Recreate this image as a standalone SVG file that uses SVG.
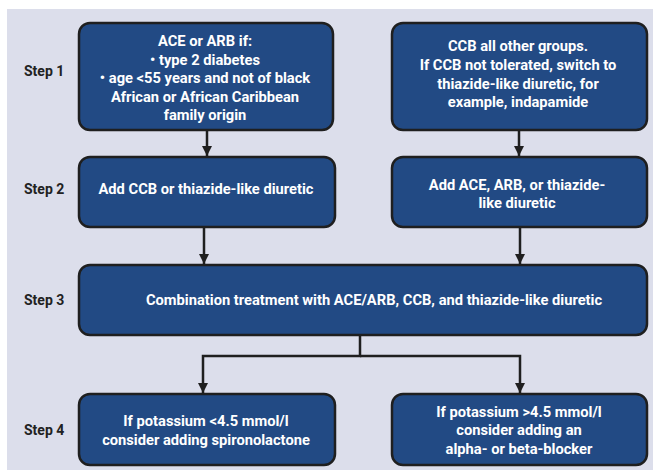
<svg xmlns="http://www.w3.org/2000/svg" width="653" height="471" viewBox="0 0 653 471">
<defs>
<style>
.box{fill:#224a84;stroke:#1f1f1f;stroke-width:2.5}
.t{font-family:Roboto,"Liberation Sans",sans-serif;font-weight:bold;font-size:14.7px;fill:#ffffff;text-anchor:middle}
.s{font-family:Roboto,"Liberation Sans",sans-serif;font-weight:bold;font-size:14px;fill:#222222}
.c{fill:none;stroke:#1f1f1f;stroke-width:2.5}
</style>
<marker id="ah" viewBox="0 0 10 10" refX="10" refY="5" markerWidth="4" markerHeight="4" orient="auto" markerUnits="strokeWidth">
<path d="M0,0 L10,5 L0,10 z" fill="#1f1f1f"/>
</marker>
</defs>
<rect x="0" y="0" width="653" height="471" fill="#ffffff"/>
<rect x="7" y="9" width="646" height="461" fill="#dcdeeb"/>
<g id="labels">
<text class="s" x="24" y="76">Step 1</text>
<text class="s" x="24" y="194">Step 2</text>
<text class="s" x="24" y="305">Step 3</text>
<text class="s" x="24" y="435">Step 4</text>
</g>
<g id="connectors">
<line class="c" x1="207" y1="131" x2="207" y2="156" marker-end="url(#ah)"/>
<line class="c" x1="519" y1="131" x2="519" y2="156" marker-end="url(#ah)"/>
<line class="c" x1="204" y1="228" x2="204" y2="264" marker-end="url(#ah)"/>
<line class="c" x1="520" y1="228" x2="520" y2="264" marker-end="url(#ah)"/>
<polyline class="c" points="360,336 360,356 203,356 203,393" marker-end="url(#ah)"/>
<polyline class="c" points="360,356 520,356 520,393" marker-end="url(#ah)"/>
</g>
<g id="n1">
<rect class="box" x="79" y="23" width="254" height="107" rx="11"/>
<text class="t" x="205" y="46">ACE or ARB if:</text>
<text class="t" x="205" y="65">• type 2 diabetes</text>
<text class="t" x="205" y="83">• age &lt;55 years and not of black</text>
<text class="t" x="205" y="102">African or African Caribbean</text>
<text class="t" x="205" y="119.5">family origin</text>
</g>
<g id="n2">
<rect class="box" x="392" y="23" width="255" height="107" rx="11"/>
<text class="t" x="518" y="51">CCB all other groups.</text>
<text class="t" x="518" y="70">If CCB not tolerated, switch to</text>
<text class="t" x="518" y="88.5">thiazide-like diuretic, for</text>
<text class="t" x="518" y="107">example, indapamide</text>
</g>
<g id="n3">
<rect class="box" x="79" y="157" width="256" height="70" rx="11"/>
<text class="t" x="206" y="194">Add CCB or thiazide-like diuretic</text>
</g>
<g id="n4">
<rect class="box" x="392" y="157" width="255" height="70" rx="11"/>
<text class="t" x="517" y="190">Add ACE, ARB, or thiazide-</text>
<text class="t" x="517" y="208">like diuretic</text>
</g>
<g id="n5">
<rect class="box" x="79" y="265" width="568" height="70" rx="11"/>
<text class="t" x="374" y="305">Combination treatment with ACE/ARB, CCB, and thiazide-like diuretic</text>
</g>
<g id="n6">
<rect class="box" x="79" y="394" width="256" height="71" rx="11"/>
<text class="t" x="206" y="426">If potassium &lt;4.5 mmol/l</text>
<text class="t" x="206" y="445">consider adding spironolactone</text>
</g>
<g id="n7">
<rect class="box" x="392" y="394" width="255" height="71" rx="11"/>
<text class="t" x="519" y="417">If potassium &gt;4.5 mmol/l</text>
<text class="t" x="519" y="435">consider adding an</text>
<text class="t" x="519" y="453.5">alpha- or beta-blocker</text>
</g>
</svg>
